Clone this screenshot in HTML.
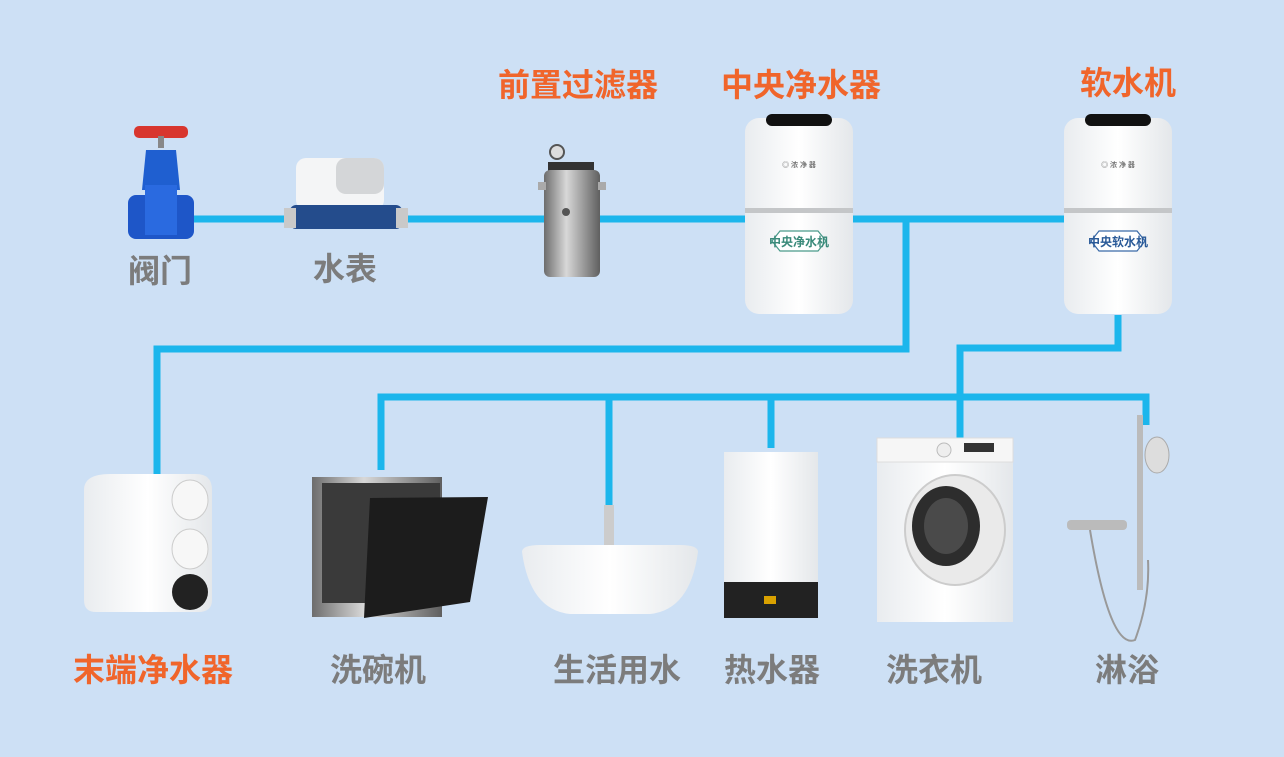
<!DOCTYPE html>
<html><head><meta charset="utf-8"><style>
html,body{margin:0;padding:0;background:#cde0f5;}
svg{display:block}
text{font-family:"Liberation Sans","Noto Sans CJK SC",sans-serif;font-weight:bold;}
</style></head><body>
<svg width="1284" height="757" viewBox="0 0 1284 757" xmlns="http://www.w3.org/2000/svg">
<rect width="1284" height="757" fill="#cde0f5"/>
<defs>
<linearGradient id="steel" x1="0" x2="1"><stop offset="0" stop-color="#6d6d6d"/><stop offset="0.4" stop-color="#d8d8d8"/><stop offset="1" stop-color="#5f5f5f"/></linearGradient>
<linearGradient id="wh" x1="0" x2="1"><stop offset="0" stop-color="#e9ecef"/><stop offset="0.5" stop-color="#ffffff"/><stop offset="1" stop-color="#e4e7ea"/></linearGradient>
</defs>
<g stroke="#1cb6ec" stroke-width="7" fill="none">
<path d="M190 219 H1065"/>
<path d="M906 219 V349 H157 V475"/>
<path d="M1118 315 V348 H960 V438"/>
<path d="M381 470 V397 H1146 V425"/>
<path d="M609 397 V505"/>
<path d="M771 397 V448"/>
</g>
<!-- valve -->
<g>
<rect x="134" y="126" width="54" height="12" rx="5" fill="#d8362e"/>
<rect x="158" y="136" width="6" height="12" fill="#888"/>
<path d="M146 150 h30 l4 40 h-38 z" fill="#1f5fd0"/>
<rect x="128" y="195" width="66" height="44" rx="8" fill="#1e56c8"/>
<rect x="145" y="185" width="32" height="50" fill="#2a6ae0"/>
</g>
<!-- meter -->
<g>
<rect x="296" y="158" width="88" height="52" rx="10" fill="#f4f5f6"/>
<rect x="336" y="158" width="48" height="36" rx="10" fill="#d4d6d8"/>
<rect x="290" y="205" width="112" height="24" rx="6" fill="#244c8c"/>
<rect x="284" y="208" width="12" height="20" fill="#c9c9c9"/>
<rect x="396" y="208" width="12" height="20" fill="#c9c9c9"/>
</g>
<!-- prefilter -->
<g>
<circle cx="557" cy="152" r="7" fill="#ddd" stroke="#555" stroke-width="2"/>
<rect x="548" y="162" width="46" height="12" fill="#333"/>
<rect x="544" y="170" width="56" height="107" rx="6" fill="url(#steel)"/>
<rect x="538" y="182" width="8" height="8" fill="#aaa"/><rect x="598" y="182" width="8" height="8" fill="#aaa"/>
<circle cx="566" cy="212" r="4" fill="#555"/>
</g>
<!-- central purifier -->
<g>
<rect x="745" y="118" width="108" height="196" rx="14" fill="url(#wh)"/>
<rect x="766" y="114" width="66" height="12" rx="6" fill="#111"/>
<rect x="745" y="208" width="108" height="5" fill="#c4c6c8"/>
<path d="M772 241 l8 -10 h38 l8 10 l-8 10 h-38 z" fill="#fff" stroke="#4a9a8a" stroke-width="1.2"/>
<text x="799" y="246" font-size="12" fill="#3a8a7a" text-anchor="middle">中央净水机</text>
<text x="799" y="167" font-size="7" fill="#777" text-anchor="middle">◎ 浓 净 器</text>
</g>
<!-- softener -->
<g>
<rect x="1064" y="118" width="108" height="196" rx="14" fill="url(#wh)"/>
<rect x="1085" y="114" width="66" height="12" rx="6" fill="#111"/>
<rect x="1064" y="208" width="108" height="5" fill="#c4c6c8"/>
<path d="M1091 241 l8 -10 h38 l8 10 l-8 10 h-38 z" fill="#fff" stroke="#3a6aa8" stroke-width="1.2"/>
<text x="1118" y="246" font-size="12" fill="#2a5a98" text-anchor="middle">中央软水机</text>
<text x="1118" y="167" font-size="7" fill="#777" text-anchor="middle">◎ 浓 净 器</text>
</g>
<!-- end purifier -->
<g>
<path d="M84 490 Q84 474 110 474 H196 Q212 474 212 490 V600 Q212 612 198 612 H96 Q84 612 84 600 Z" fill="url(#wh)"/>
<ellipse cx="190" cy="500" rx="18" ry="20" fill="#f7f7f7" stroke="#ccc"/>
<ellipse cx="190" cy="549" rx="18" ry="20" fill="#f7f7f7" stroke="#ccc"/>
<ellipse cx="190" cy="592" rx="18" ry="18" fill="#222"/>
</g>
<!-- dishwasher -->
<g>
<rect x="312" y="477" width="130" height="140" fill="url(#steel)"/>
<rect x="322" y="483" width="118" height="120" fill="#3a3a3a"/>
<path d="M370 498 L488 497 L470 602 L364 618 Z" fill="#1c1c1c"/>
</g>
<!-- bathtub -->
<g>
<rect x="604" y="505" width="10" height="40" fill="#ccc"/>
<path d="M522 552 Q522 545 540 545 H680 Q698 545 698 552 Q690 610 650 614 H570 Q530 610 522 552 Z" fill="url(#wh)"/>
</g>
<!-- heater -->
<g>
<rect x="724" y="452" width="94" height="130" fill="url(#wh)"/>
<rect x="724" y="582" width="94" height="36" fill="#222"/>
<rect x="764" y="596" width="12" height="8" fill="#d9a100"/>
</g>
<!-- washer -->
<g>
<rect x="877" y="438" width="136" height="184" fill="url(#wh)"/>
<rect x="877" y="438" width="136" height="24" fill="#f6f6f6" stroke="#ddd"/>
<rect x="964" y="443" width="30" height="9" fill="#333"/>
<circle cx="944" cy="450" r="7" fill="#eee" stroke="#bbb"/>
<ellipse cx="955" cy="530" rx="50" ry="55" fill="#eaeaea" stroke="#ccc" stroke-width="2"/>
<ellipse cx="946" cy="526" rx="34" ry="40" fill="#2d2d2d"/>
<ellipse cx="946" cy="526" rx="22" ry="28" fill="#4a4a4a"/>
</g>
<!-- shower -->
<g>
<rect x="1137" y="415" width="6" height="175" fill="#bbb"/>
<ellipse cx="1157" cy="455" rx="12" ry="18" fill="#ddd" stroke="#aaa"/>
<rect x="1067" y="520" width="60" height="10" rx="4" fill="#bbb"/>
<path d="M1090 530 Q1110 650 1135 640 Q1150 600 1148 560" stroke="#999" stroke-width="2" fill="none"/>
</g>
<!-- labels -->
<g font-size="32" text-anchor="middle">
<text x="578" y="96" fill="#f0652b">前置过滤器</text>
<text x="801" y="96" fill="#f0652b">中央净水器</text>
<text x="1128" y="94" fill="#f0652b">软水机</text>
<text x="160" y="282" fill="#7c7c7c">阀门</text>
<text x="345" y="280" fill="#7c7c7c">水表</text>
<text x="153" y="681" fill="#f0652b">末端净水器</text>
<text x="378" y="681" fill="#7c7c7c">洗碗机</text>
<text x="617" y="681" fill="#7c7c7c">生活用水</text>
<text x="772" y="681" fill="#7c7c7c">热水器</text>
<text x="934" y="681" fill="#7c7c7c">洗衣机</text>
<text x="1127" y="681" fill="#7c7c7c">淋浴</text>
</g>
</svg>
</body></html>
